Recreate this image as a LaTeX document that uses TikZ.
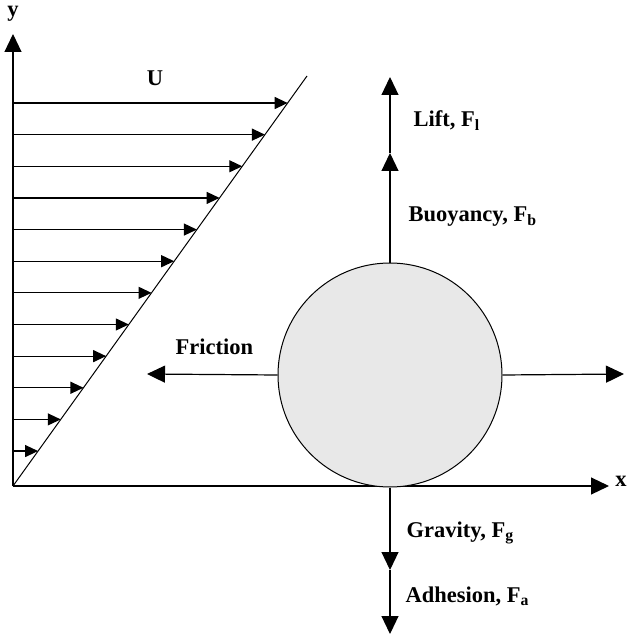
\documentclass[tikz,border=0pt]{standalone}
\usepackage{fontspec}
\setmainfont{Liberation Serif}
\usetikzlibrary{arrows.meta}
\begin{document}
\begin{tikzpicture}[x=1pt,y=-1pt,
  line width=1.2pt,
  big/.style={-{Triangle[length=18pt,width=17pt]}},
  small/.style={-{Triangle[length=13pt,width=12pt]}},
  lbl/.style={font=\fontsize{22.5}{24}\selectfont\bfseries, inner sep=0pt, anchor=base west},
  particle/.style={circle, draw, fill=black!9, minimum size=224pt, inner sep=0pt, line width=1pt}]
\useasboundingbox (0,0) rectangle (626,636);
% axes
\coordinate (O) at (13,486);
\coordinate (ytop) at (13,34);
\coordinate (xend) at (609,486);
\draw[big] (O) -- (ytop);
\draw[big] (O) -- (xend);
\node[lbl, anchor=base] (ylab) at (13,17) {y};
\node[lbl, anchor=base] (xlab) at (621,486) {x};
% shear profile
\coordinate (dtop) at (307,76);
\draw[line width=1pt] (O) -- (dtop);
\foreach \i in {0,...,11}{
  \pgfmathsetmacro{\yy}{103+\i*31.64}
  \pgfmathsetmacro{\xx}{13+0.71707*(486-\yy)}
  \coordinate (s\i) at (13,\yy);
  \coordinate (e\i) at (\xx,\yy);
  \draw[small] (s\i) -- (e\i);
}
\node[lbl, anchor=base] (U) at (155,86) {U};
% particle
\node[particle] (p) at (390,375) {};
% lift / buoyancy
\coordinate (b1) at (390,153);
\coordinate (b2) at (390,77);
\draw[big] (p.north) -- (b1);
\draw[big] (b1) -- (b2);
\node[lbl] (lift) at (413,127) {Lift, F\textsubscript{l}};
\node[lbl] (buoy) at (408,222) {Buoyancy, F\textsubscript{b}};
% friction
\coordinate (fl) at (147,374);
\coordinate (fr) at (624,374);
\draw[big] (p.west) -- (fl);
\draw[big] (p.east) -- (fr);
\node[lbl] (fric) at (175,354) {Friction};
% gravity / adhesion
\coordinate (g1) at (390,570);
\coordinate (g2) at (390,634);
\draw[big] (p.south) -- (g1);
\draw[big] (g1) -- (g2);
\node[lbl] (grav) at (406,537) {Gravity, F\textsubscript{g}};
\node[lbl] (adh) at (405,602) {Adhesion, F\textsubscript{a}};
\end{tikzpicture}
\end{document}
